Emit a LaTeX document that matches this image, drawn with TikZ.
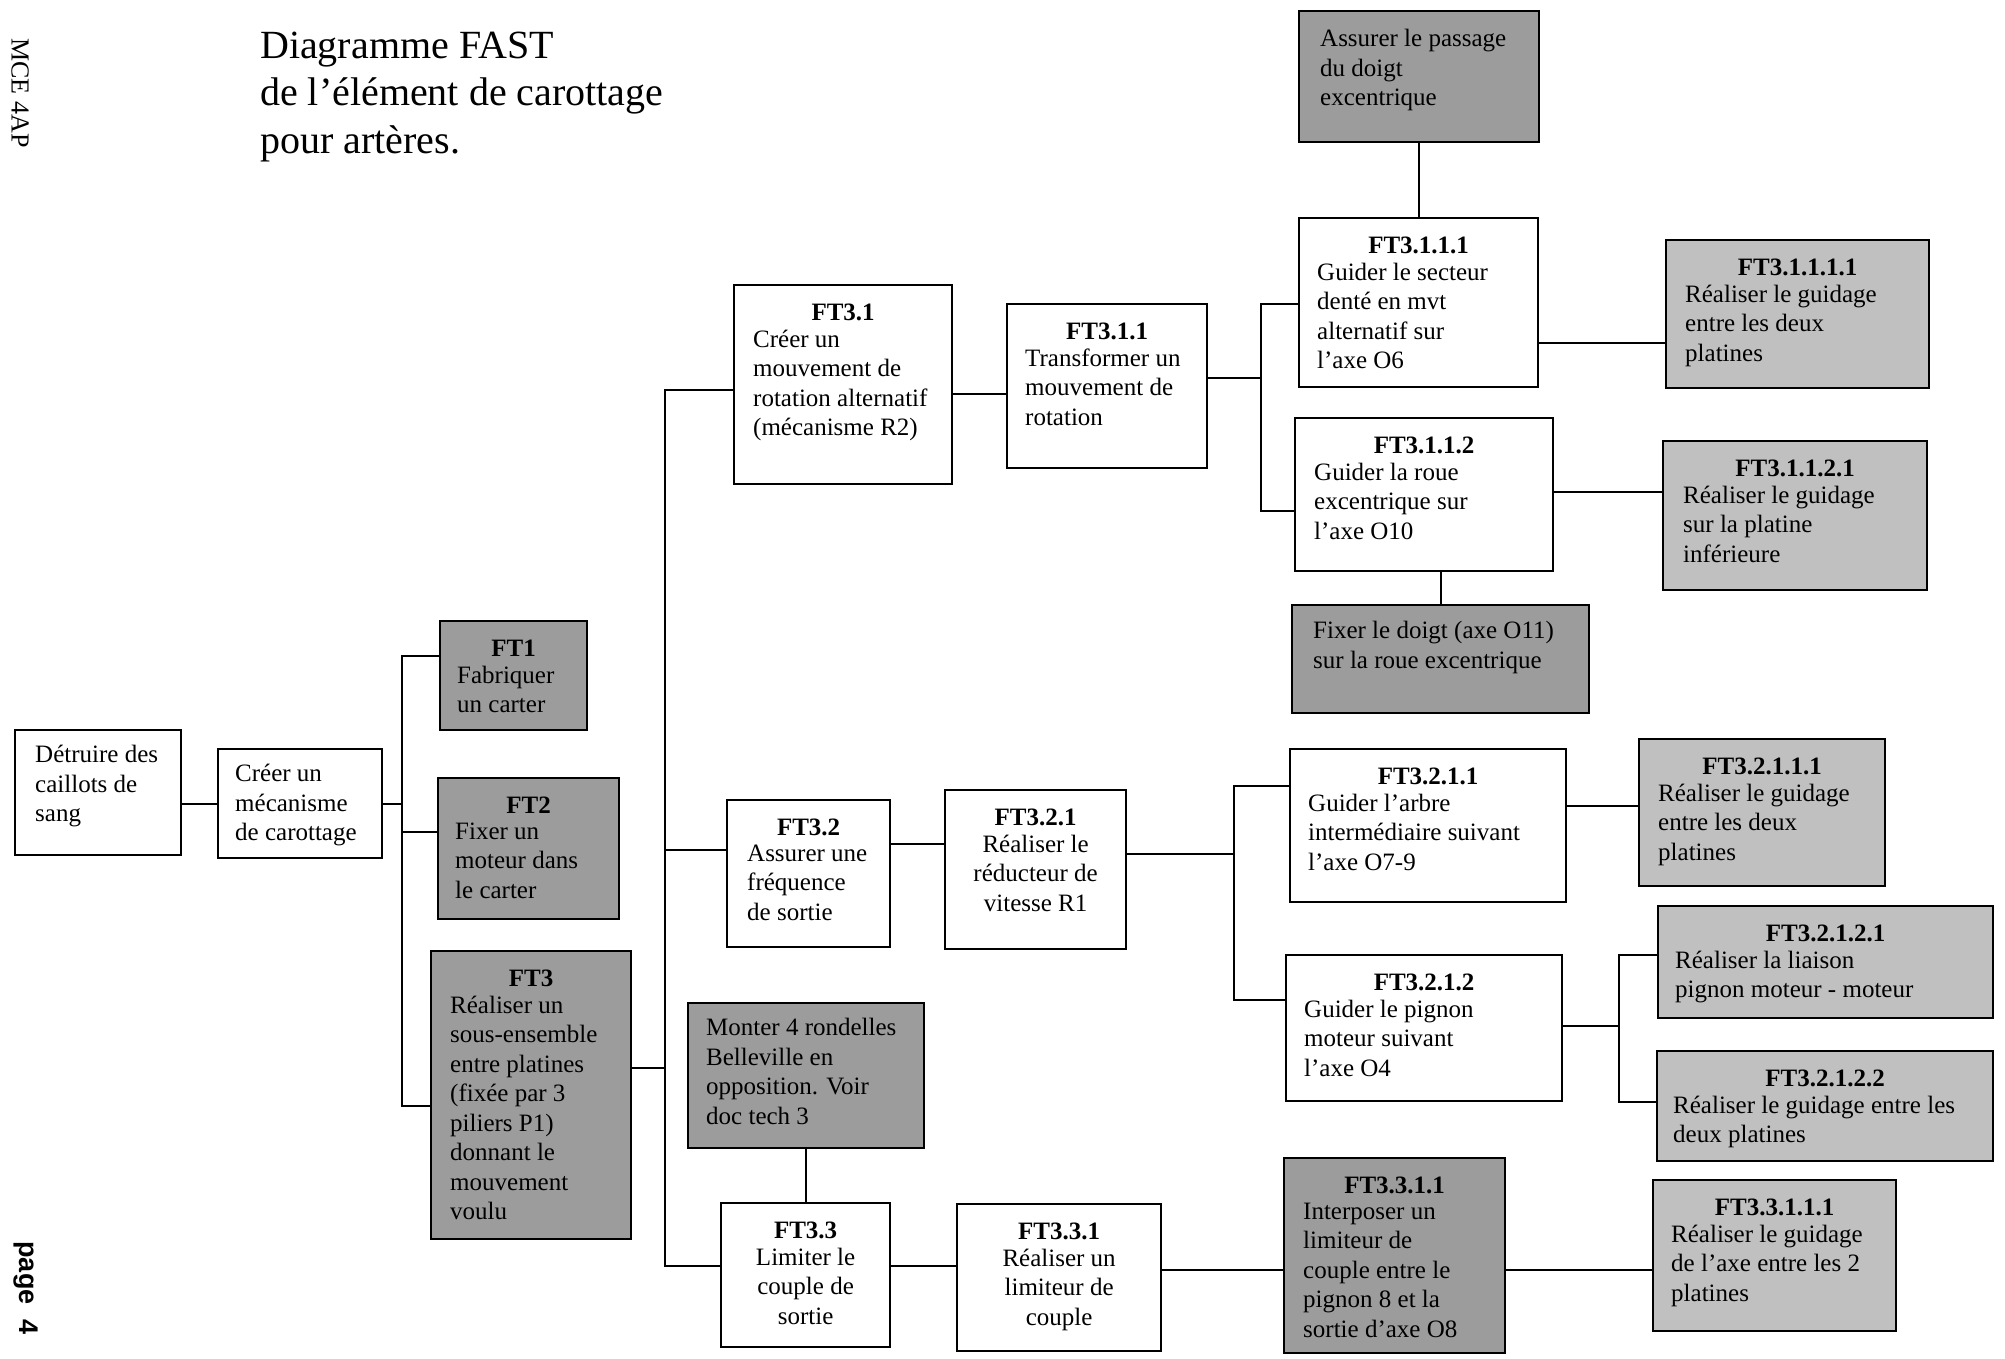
\documentclass[tikz,border=0pt]{standalone}
\usepackage{fontspec}
\setmainfont{Liberation Serif}
\setsansfont{Liberation Sans}
\definecolor{gdark}{HTML}{9C9C9C}
\definecolor{glight}{HTML}{C0C0C0}
\tikzset{
 wbox/.style={draw, line width=2.2pt, fill=white, inner sep=0pt},
 dbox/.style={wbox, fill=gdark},
 lbox/.style={wbox, fill=glight},
 conn/.style={line width=2pt},
 hd/.style={anchor=north, inner sep=0pt, font=\fontsize{25}{29.5}\selectfont\bfseries, execute at begin node=\strut},
 txt/.style={anchor=north west, inner sep=0pt, align=left, font=\fontsize{25}{29.5}\selectfont, execute at begin node=\strut},
 ctxt/.style={txt, anchor=north, align=center},
 ttl/.style={anchor=north west, inner sep=0pt, align=left, font=\fontsize{40}{47.5}\selectfont, execute at begin node=\strut},
}
\newcommand\bx[6]{\node[#2,anchor=north west,minimum width={(#5-#3)*1pt},minimum height={(#6-#4)*1pt}] (#1) at (#3,#4) {};}
\begin{document}
\begin{tikzpicture}[x=1pt,y=-1pt]
\useasboundingbox (0,0) rectangle (2005,1358);

% margins texts
\node[ttl] (title) at (260,31.5) {Diagramme FAST\\de l’élément de carottage\\pour artères.};
\node[rotate=-90, inner sep=0pt, font=\fontsize{26}{30}\selectfont] (mce) at (20,93) {MCE 4AP};
\node[rotate=-90, inner sep=0pt, font=\sffamily\bfseries\fontsize{27}{30}\selectfont] (pg) at (26,1288) {page\ \ 4};

% boxes
\bx{A}{wbox}{14}{729}{180}{854}
\bx{B}{wbox}{217}{748}{381}{857}
\bx{ft1}{dbox}{439}{620}{586}{729}
\bx{ft2}{dbox}{437}{777}{618}{918}
\bx{ft3}{dbox}{430}{950}{630}{1238}
\bx{ft31}{wbox}{733}{284}{951}{483}
\bx{ft32}{wbox}{726}{799}{889}{946}
\bx{ft33}{wbox}{720}{1202}{889}{1346}
\bx{bel}{dbox}{687}{1002}{923}{1147}
\bx{ft311}{wbox}{1006}{303}{1206}{467}
\bx{ft3111}{wbox}{1298}{217}{1537}{386}
\bx{ft3112}{wbox}{1294}{417}{1552}{570}
\bx{ass}{dbox}{1298}{10}{1538}{141}
\bx{ft31111}{lbox}{1665}{239}{1928}{387}
\bx{ft31121}{lbox}{1662}{440}{1926}{589}
\bx{fix}{dbox}{1291}{604}{1588}{712}
\bx{ft321}{wbox}{944}{789}{1125}{948}
\bx{ft3211}{wbox}{1289}{748}{1565}{901}
\bx{ft3212}{wbox}{1285}{954}{1561}{1100}
\bx{ft32111}{lbox}{1638}{738}{1884}{885}
\bx{ft32121}{lbox}{1657}{905}{1992}{1017}
\bx{ft32122}{lbox}{1656}{1050}{1992}{1160}
\bx{ft331}{wbox}{956}{1203}{1160}{1350}
\bx{ft3311}{dbox}{1283}{1157}{1504}{1352}
\bx{ft33111}{lbox}{1652}{1179}{1895}{1330}

% texts without heading
\node[txt] (tA) at ([shift={(21pt,-16pt)}]A.north west) {Détruire des\\caillots de\\sang};
\node[txt] (tB) at ([shift={(18pt,-16pt)}]B.north west) {Créer un\\mécanisme\\de carottage};
\node[txt] (tass) at ([shift={(22pt,-19pt)}]ass.north west) {Assurer le passage\\du doigt\\excentrique};
\node[txt] (tfix) at ([shift={(22pt,-17pt)}]fix.north west) {Fixer le doigt (axe O11)\\sur la roue excentrique};
\node[txt] (tbel) at ([shift={(19pt,-16pt)}]bel.north west) {Monter 4 rondelles\\Belleville en\\opposition. Voir\\doc tech 3};

% headings
\node[hd] (h1) at ([yshift=-16pt]ft1.north) {FT1};
\node[hd] (h2) at ([yshift=-16pt]ft2.north) {FT2};
\node[hd] (h3) at ([yshift=-16pt]ft3.north) {FT3};
\node[hd] (h31) at ([yshift=-16pt]ft31.north) {FT3.1};
\node[hd] (h32) at ([yshift=-16pt]ft32.north) {FT3.2};
\node[hd] (h33) at ([yshift=-16pt]ft33.north) {FT3.3};
\node[hd] (h311) at ([yshift=-16pt]ft311.north) {FT3.1.1};
\node[hd] (h3111) at ([yshift=-16pt]ft3111.north) {FT3.1.1.1};
\node[hd] (h3112) at ([yshift=-16pt]ft3112.north) {FT3.1.1.2};
\node[hd] (h31111) at ([yshift=-16pt]ft31111.north) {FT3.1.1.1.1};
\node[hd] (h31121) at ([yshift=-16pt]ft31121.north) {FT3.1.1.2.1};
\node[hd] (h321) at ([yshift=-16pt]ft321.north) {FT3.2.1};
\node[hd] (h3211) at ([yshift=-16pt]ft3211.north) {FT3.2.1.1};
\node[hd] (h3212) at ([yshift=-16pt]ft3212.north) {FT3.2.1.2};
\node[hd] (h32111) at ([yshift=-16pt]ft32111.north) {FT3.2.1.1.1};
\node[hd] (h32121) at ([yshift=-16pt]ft32121.north) {FT3.2.1.2.1};
\node[hd] (h32122) at ([yshift=-16pt]ft32122.north) {FT3.2.1.2.2};
\node[hd] (h331) at ([yshift=-16pt]ft331.north) {FT3.3.1};
\node[hd] (h3311) at ([yshift=-16pt]ft3311.north) {FT3.3.1.1};
\node[hd] (h33111) at ([yshift=-16pt]ft33111.north) {FT3.3.1.1.1};

% bodies
\node[txt] (t1) at ([shift={(18pt,-45.5pt)}]ft1.north west) {Fabriquer\\un carter};
\node[txt] (t2) at ([shift={(18pt,-45.5pt)}]ft2.north west) {Fixer un\\moteur dans\\le carter};
\node[txt] (t3) at ([shift={(20pt,-45.5pt)}]ft3.north west) {Réaliser un\\sous-ensemble\\entre platines\\(fixée par 3\\piliers P1)\\donnant le\\mouvement\\voulu};
\node[txt] (t31) at ([shift={(20pt,-45.5pt)}]ft31.north west) {Créer un\\mouvement de\\rotation alternatif\\(mécanisme R2)};
\node[txt] (t32) at ([shift={(21pt,-45.5pt)}]ft32.north west) {Assurer une\\fréquence\\de sortie};
\node[ctxt] (t33) at ([yshift=-45.5pt]ft33.north) {Limiter le\\couple de\\sortie};
\node[txt] (t311) at ([shift={(19pt,-45.5pt)}]ft311.north west) {Transformer un\\mouvement de\\rotation};
\node[txt] (t3111) at ([shift={(19pt,-45.5pt)}]ft3111.north west) {Guider le secteur\\denté en mvt\\alternatif sur\\l’axe O6};
\node[txt] (t3112) at ([shift={(20pt,-45.5pt)}]ft3112.north west) {Guider la roue\\excentrique sur\\l’axe O10};
\node[txt] (t31111) at ([shift={(20pt,-45.5pt)}]ft31111.north west) {Réaliser le guidage\\entre les deux\\platines};
\node[txt] (t31121) at ([shift={(21pt,-45.5pt)}]ft31121.north west) {Réaliser le guidage\\sur la platine\\inférieure};
\node[ctxt] (t321) at ([yshift=-45.5pt]ft321.north) {Réaliser le\\réducteur de\\vitesse R1};
\node[txt] (t3211) at ([shift={(19pt,-45.5pt)}]ft3211.north west) {Guider l’arbre\\intermédiaire suivant\\l’axe O7-9};
\node[txt] (t3212) at ([shift={(19pt,-45.5pt)}]ft3212.north west) {Guider le pignon\\moteur suivant\\l’axe O4};
\node[txt] (t32111) at ([shift={(20pt,-45.5pt)}]ft32111.north west) {Réaliser le guidage\\entre les deux\\platines};
\node[txt] (t32121) at ([shift={(18pt,-45.5pt)}]ft32121.north west) {Réaliser la liaison\\pignon moteur - moteur};
\node[txt] (t32122) at ([shift={(17pt,-45.5pt)}]ft32122.north west) {Réaliser le guidage entre les\\deux platines};
\node[ctxt] (t331) at ([yshift=-45.5pt]ft331.north) {Réaliser un\\limiteur de\\couple};
\node[txt] (t3311) at ([shift={(20pt,-45.5pt)}]ft3311.north west) {Interposer un\\limiteur de\\couple entre le\\pignon 8 et la\\sortie d’axe O8};
\node[txt] (t33111) at ([shift={(19pt,-45.5pt)}]ft33111.north west) {Réaliser le guidage\\de l’axe entre les 2\\platines};

% trunk coordinates
\coordinate (k1) at (402,0);
\coordinate (k2) at (665,0);
\coordinate (k3) at (1261,0);
\coordinate (k4) at (1234,0);
\coordinate (k5) at (1619,0);

% connectors
\draw[conn] (A.east |- B.west) -- (B.west);
\draw[conn] (B.east) -- (B.east -| k1);
\draw[conn] (ft1.west |- 0,656) -| (k1 |- 0,1106) -- (ft3.west |- 0,1106);
\draw[conn] (k1 |- 0,832) -- (ft2.west |- 0,832);

\draw[conn] (ft3.east |- 0,1068) -- (k2 |- 0,1068);
\draw[conn] (ft31.west |- 0,390) -| (k2 |- 0,1266) -- (ft33.west |- 0,1266);
\draw[conn] (k2 |- 0,850) -- (ft32.west |- 0,850);
\draw[conn] (bel.south) -- (bel.south |- ft33.north);

\draw[conn] (ft31.east |- 0,394) -- (ft311.west |- 0,394);
\draw[conn] (ft311.east |- 0,378) -- (k3 |- 0,378);
\draw[conn] (ft3111.west |- 0,304) -| (k3 |- 0,511) -- (ft3112.west |- 0,511);
\draw[conn] (ass.south) -- (ass.south |- ft3111.north);
\draw[conn] (ft3111.east |- 0,343) -- (ft31111.west |- 0,343);
\draw[conn] (ft3112.east |- 0,492) -- (ft31121.west |- 0,492);
\draw[conn] (fix.north) -- (fix.north |- ft3112.south);

\draw[conn] (ft32.east |- 0,844) -- (ft321.west |- 0,844);
\draw[conn] (ft321.east |- 0,854) -- (k4 |- 0,854);
\draw[conn] (ft3211.west |- 0,786) -| (k4 |- 0,1000) -- (ft3212.west |- 0,1000);
\draw[conn] (ft3211.east |- 0,806) -- (ft32111.west |- 0,806);
\draw[conn] (ft3212.east |- 0,1026) -- (k5 |- 0,1026);
\draw[conn] (ft32121.west |- 0,955) -| (k5 |- 0,1102) -- (ft32122.west |- 0,1102);

\draw[conn] (ft33.east |- 0,1266) -- (ft331.west |- 0,1266);
\draw[conn] (ft331.east |- 0,1270) -- (ft3311.west |- 0,1270);
\draw[conn] (ft3311.east |- 0,1270) -- (ft33111.west |- 0,1270);
\end{tikzpicture}
\end{document}
